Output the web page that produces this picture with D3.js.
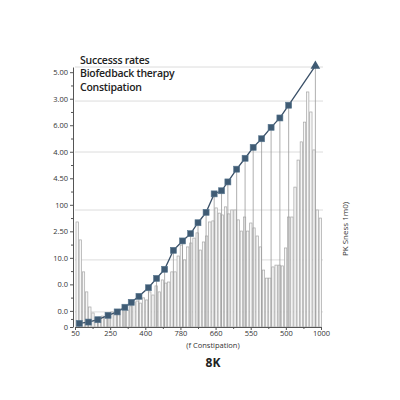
<!DOCTYPE html>
<html><head><meta charset="utf-8">
<script src="https://cdn.jsdelivr.net/npm/d3@7"></script>
<style>body{margin:0;background:#fff}</style>
</head><body>
<svg id="c" width="400" height="400"></svg>
<script>
const titleLines = ["Successs rates", "Biofedback therapy", "Constipation"];
const yTickValues = [98, 87.8, 77.6, 67.4, 57.2, 47, 36.8, 26.6, 16.4, 6.2, 0];
const yTickLabels = ["5.00","3.00","6.00","4.00","4.50","100","2.50","10.0","0.0","0.0","0"];
const gridValues = [100, 86.9, 67.3, 45, 25.8, 5.8];
const xTickValues = [0,1,2,3,4,5,6,7];
const xTickLabels = ["50","250","400","780","660","550","500","1000"];
const xTitle = "(f Constipation)";
const subTitle = "8K";
const rightTitle = "PK Sness 1m0)";
const barValues = [40.4,33.5,21.2,13.5,7.7,5.4,3.5,3.8,4.2,3.5,5.0,5.8,5.4,6.5,6.9,8.1,6.5,8.1,9.6,10.0,
 9.2,11.2,10.4,13.5,12.3,15.8,13.5,18.1,16.9,17.3,21.2,21.2,27.3,31.5,25.8,30.8,32.3,34.2,36.2,29.6,
 32.7,35.0,40.4,40.8,45.8,43.8,43.1,46.2,43.5,45.0,45.0,41.2,36.9,42.3,36.9,40.0,38.1,35.0,30.8,21.9,
 18.8,18.8,23.1,23.8,23.8,23.5,30.4,42.3,42.3,53.8,64.2,71.2,78.8,90.4,82.7,68.1,45.0,41.9];
const markerX = [0.12,0.38,0.65,0.94,1.20,1.42,1.60,1.82,2.09,2.32,2.55,2.80,3.06,3.29,3.50,3.73,3.96,4.17,4.35,4.60,4.84,5.07,5.31,5.58,5.83,6.08];
const markerY = [1.4,1.9,2.8,4.5,5.8,7.6,9.5,11.8,15.1,18.7,22.2,29.5,33.1,35.9,40.1,44.1,51.2,52.4,55.8,60.7,64.9,69.1,72.4,76.8,80.4,85.3];
const endX = 6.84, endY = 100.4;

const svg = d3.select("#c");
const x = d3.scaleLinear().domain([0,7]).range([75,321]);
const y = d3.scaleLinear().domain([0,100]).range([327,67]);
const xb = d3.scaleBand().domain(d3.range(barValues.length)).range([76,321.5]).paddingInner(0.25);

// gridlines
svg.append("g").selectAll("line").data(gridValues).join("line")
  .attr("x1",75).attr("x2",323).attr("y1",d=>y(d)).attr("y2",d=>y(d))
  .attr("stroke","#dcdcdc").attr("stroke-width",1);

// bars
svg.append("g").selectAll("rect").data(barValues).join("rect")
  .attr("x",(d,i)=>xb(i)).attr("width",xb.bandwidth())
  .attr("y",d=>y(d)).attr("height",d=>y(0)-y(d))
  .attr("fill","#f7f7f7").attr("stroke","#a6a6a6").attr("stroke-width",0.7);

// stems
const pts = markerX.map((v,i)=>({x:v,y:markerY[i]}));
const allPts = pts.concat([{x:endX,y:endY}]);
svg.append("g").selectAll("line").data(allPts).join("line")
  .attr("x1",d=>x(d.x)).attr("x2",d=>x(d.x)).attr("y1",d=>y(d.y)).attr("y2",y(0))
  .attr("stroke","#9a9a9a").attr("stroke-width",0.8);

// line
svg.append("path").datum(allPts)
  .attr("d",d3.line().x(d=>x(d.x)).y(d=>y(d.y)))
  .attr("fill","none").attr("stroke","#3a5068").attr("stroke-width",1.3);

// markers
svg.append("g").selectAll("rect").data(pts).join("rect")
  .attr("x",d=>x(d.x)-3).attr("y",d=>y(d.y)-3).attr("width",6).attr("height",6)
  .attr("fill","#3f5b74").attr("stroke","#5a7890").attr("stroke-width",0.6);
svg.append("path").attr("d",d3.symbol(d3.symbolTriangle,40)())
  .attr("transform",`translate(${x(endX)},${y(endY)})`).attr("fill","#3f5b74");

// y axis
const yAx = svg.append("g").attr("transform","translate(73,0)")
  .call(d3.axisLeft(y).tickValues(yTickValues).tickFormat((d,i)=>yTickLabels[i]).tickSize(3).tickSizeOuter(0));
const yMinor = svg.append("g").attr("transform","translate(73,0)")
  .call(d3.axisLeft(y).tickValues(yTickValues.slice(0,-1).map((v,i)=>(v+yTickValues[i+1])/2)).tickFormat("").tickSize(2).tickSizeOuter(0));
yMinor.select(".domain").remove();
// x axis
const xAx = svg.append("g").attr("transform",`translate(0,${y(0)})`)
  .call(d3.axisBottom(x).tickValues(xTickValues).tickFormat((d,i)=>xTickLabels[i]).tickSize(3).tickPadding(1).tickSizeOuter(0));
const xMinor = svg.append("g").attr("transform",`translate(0,${y(0)})`)
  .call(d3.axisBottom(x).tickValues(xTickValues.slice(0,-1).map(v=>v+0.5)).tickFormat("").tickSize(2).tickSizeOuter(0));
xMinor.select(".domain").remove();
svg.selectAll(".domain").attr("stroke","#555");
svg.selectAll(".tick line").attr("stroke","#555");
svg.selectAll(".tick text").attr("font-family","'Open Sans', sans-serif").attr("font-size",7.5).attr("fill","#333");
yAx.selectAll(".tick text").attr("x",-5);

// titles
svg.append("g").selectAll("text").data(titleLines).join("text")
  .attr("x",80).attr("y",(d,i)=>64+i*13.3).text(d=>d)
  .attr("font-family","'Open Sans', sans-serif").attr("font-size",10.5).attr("font-weight",600)
  .attr("letter-spacing",-0.25).attr("fill","#222");
svg.append("text").attr("x",213).attr("y",347.5).attr("text-anchor","middle").text(xTitle)
  .attr("font-family","'Open Sans', sans-serif").attr("font-size",7.5).attr("fill","#333");
svg.append("text").attr("x",213).attr("y",367).attr("text-anchor","middle").text(subTitle)
  .attr("font-family","'Open Sans', sans-serif").attr("font-size",12).attr("font-weight",700).attr("fill","#222");
svg.append("text").attr("transform","translate(348,229) rotate(-90)").attr("text-anchor","middle").text(rightTitle)
  .attr("font-family","'Open Sans', sans-serif").attr("font-size",8).attr("fill","#333");
</script>
</body></html>
